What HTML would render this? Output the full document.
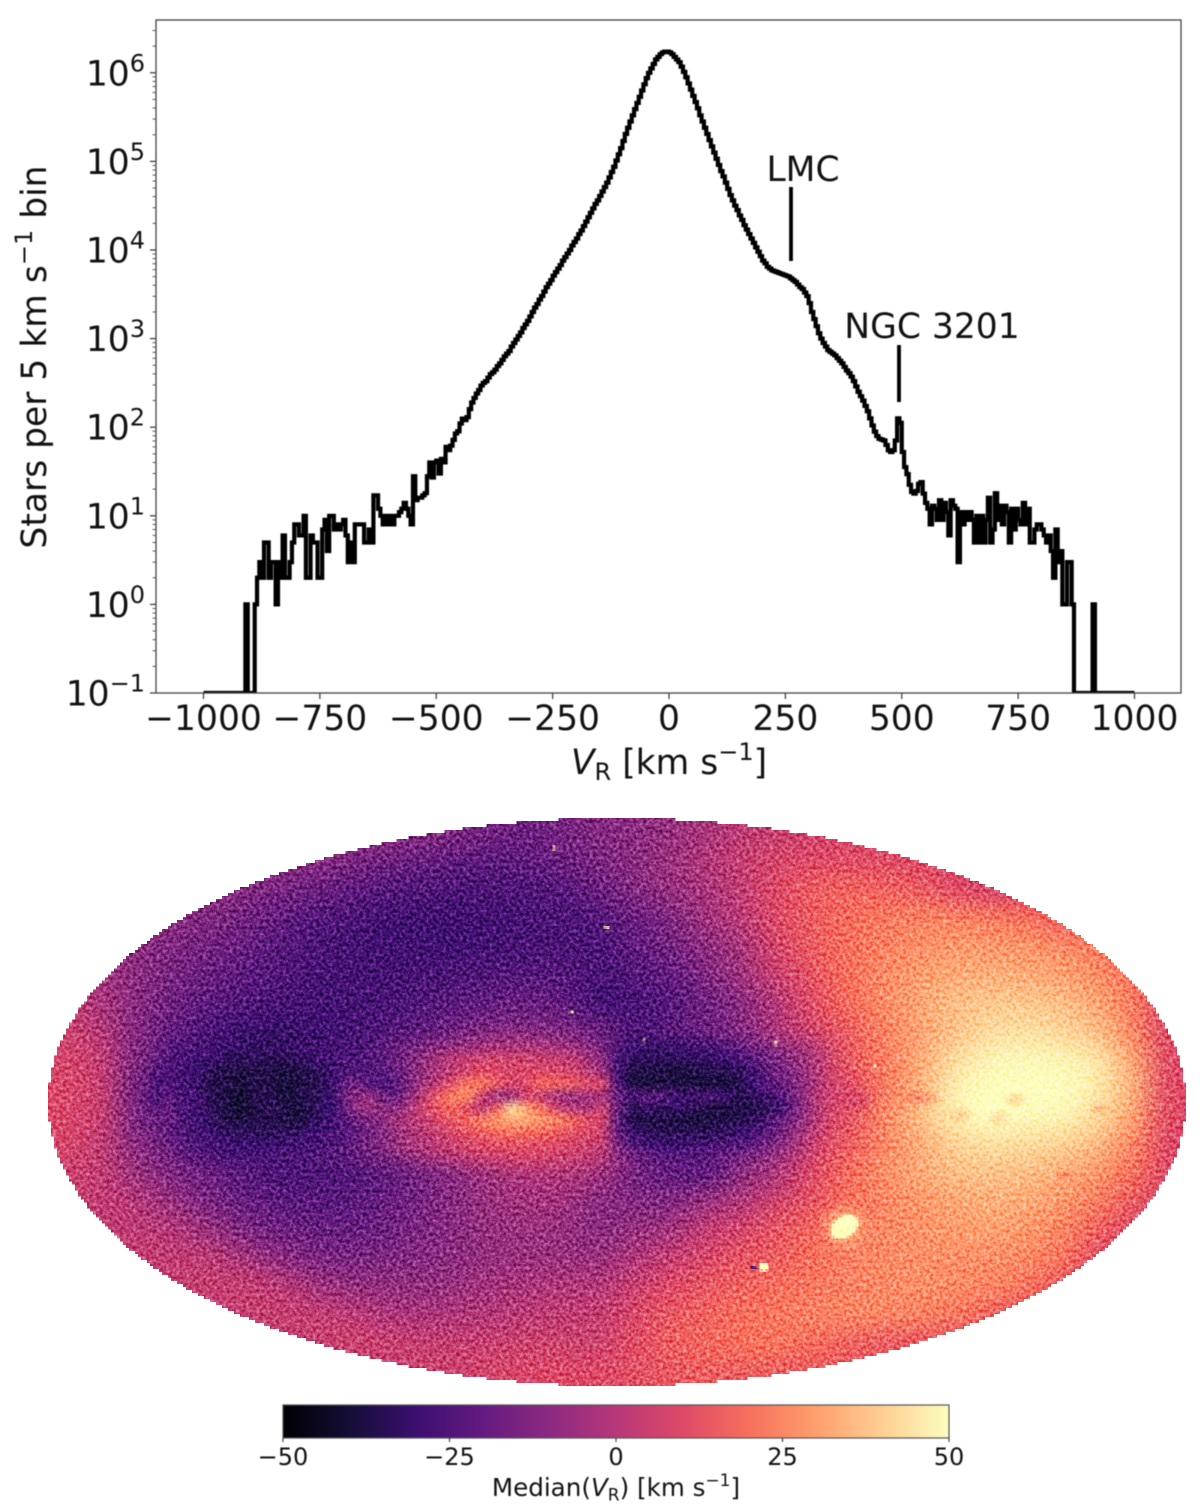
<!DOCTYPE html>
<html lang="en">
<head>
<meta charset="utf-8">
<title>Radial velocity histogram and sky map</title>
<style>
html,body{margin:0;padding:0;background:#fff;}
#page{position:relative;width:1200px;height:1510px;background:#fff;overflow:hidden;isolation:isolate;font-family:"DejaVu Sans","Liberation Sans",sans-serif;}
#sky-canvas{position:absolute;left:48px;top:818px;width:1138px;height:568px;image-rendering:pixelated;}
#grain{position:absolute;left:0;top:0;mix-blend-mode:soft-light;pointer-events:none;}
#chart{position:absolute;left:0;top:0;filter:blur(0.4px);}
text{font-family:"DejaVu Sans","Liberation Sans",sans-serif;fill:#111;}
</style>
</head>
<body>
<div id="page">
<canvas id="sky-canvas" width="379" height="189"></canvas>
<svg id="grain" width="1200" height="1510">
  <defs>
    <filter id="noise" x="0" y="0" width="100%" height="100%" color-interpolation-filters="sRGB">
      <feTurbulence type="fractalNoise" baseFrequency="0.3" numOctaves="2" seed="7"/>
      <feColorMatrix type="matrix" values="1.6 0 0 0 -0.3  1.6 0 0 0 -0.3  1.6 0 0 0 -0.3  0 0 0 0 1"/>
    </filter>
  </defs>
  <ellipse cx="617" cy="1102" rx="569" ry="284" filter="url(#noise)"/>
</svg>
<svg id="chart" width="1200" height="1510" xmlns="http://www.w3.org/2000/svg">
  <defs>
    <clipPath id="axes-clip"><rect x="156" y="20" width="1025" height="673"/></clipPath>
    <linearGradient id="cbar-gradient" x1="0" x2="1" y1="0" y2="0"></linearGradient>
  </defs>
  <g id="hist-ticks"></g>
  <path id="hist-line" clip-path="url(#axes-clip)" fill="none" stroke="#000" stroke-width="4.2" stroke-linejoin="miter"></path>
  <rect x="156" y="20" width="1025" height="673" fill="none" stroke="#444" stroke-width="1.3"></rect>

  <text x="803" y="181" font-size="34.5" text-anchor="middle">LMC</text>
  <line x1="791" x2="791" y1="187" y2="261" stroke="#000" stroke-width="3.8"></line>
  <text x="932" y="338" font-size="34.5" text-anchor="middle">NGC 3201</text>
  <line x1="899" x2="899" y1="345" y2="402" stroke="#000" stroke-width="3.8"></line>

  <text transform="translate(46,357) rotate(-90)" font-size="34.5" text-anchor="middle">Stars per 5 km s<tspan dy="-14" font-size="24">−1</tspan><tspan dy="14"> bin</tspan></text>
  <text x="669" y="774" font-size="34.5" text-anchor="middle"><tspan font-style="italic">V</tspan><tspan dy="6" font-size="24">R</tspan><tspan dy="-6"> [km s</tspan><tspan dy="-14" font-size="24">−1</tspan><tspan dy="14">]</tspan></text>

  <rect x="283" y="1405" width="666" height="33" fill="url(#cbar-gradient)" stroke="#555" stroke-width="1.2"></rect>
  <g id="cbar-ticks"></g>
  <text x="616" y="1496" font-size="24.6" text-anchor="middle">Median(<tspan font-style="italic">V</tspan><tspan dy="4.5" font-size="17">R</tspan><tspan dy="-4.5">) [km s</tspan><tspan dy="-10" font-size="17">−1</tspan><tspan dy="10">]</tspan></text>
</svg>
</div>

<script>
/* ---------- histogram data: 5 km/s bins ---------- */
const binWidth = 5;
const leftTailStart = -1000;
const leftTailCounts = [0,0,0,0,0,0,0,0,0,0,0,0,0,0,0,0,0,0,1,0,0,0,1,2,3,2,5,5,2,3,3,1,3,2,6,2,2,3,5,8,8,6,6,10,2,2,6,5,5,2,2,7,9,4,10,10,7,8,7,8,9,6,3,5,3,8,8,8,8,5,5,7,5,17,17,12,10,8,10,8,10,8,10,10,11,12,14,12,10,8,28,15,16,16,17,18,28,40,27,40,42,30,44,40,60,55,62,72,85,90,110,125,120,130,160,190];
const coreStart = -420;
const coreLog10Counts = [2.33,2.38,2.42,2.47,2.50,2.52,2.56,2.60,2.62,2.65,2.69,2.72,2.76,2.80,2.83,2.86,2.91,2.95,2.99,3.03,3.07,3.12,3.16,3.20,3.25,3.30,3.35,3.39,3.44,3.48,3.53,3.58,3.62,3.66,3.71,3.75,3.79,3.83,3.88,3.92,3.96,4.00,4.05,4.09,4.13,4.18,4.22,4.27,4.32,4.37,4.42,4.47,4.52,4.56,4.61,4.66,4.71,4.76,4.82,4.88,4.94,5.01,5.08,5.15,5.23,5.31,5.38,5.45,5.52,5.59,5.66,5.73,5.80,5.87,5.94,6.00,6.05,6.10,6.15,6.18,6.21,6.23,6.24,6.24,6.23,6.21,6.18,6.15,6.12,6.07,6.01,5.95,5.88,5.81,5.74,5.67,5.60,5.52,5.45,5.38,5.31,5.24,5.17,5.10,5.03,4.96,4.89,4.83,4.76,4.69,4.62,4.56,4.50,4.45,4.39,4.34,4.28,4.23,4.18,4.13,4.08,4.03,3.98,3.93,3.88,3.85,3.81,3.79,3.77,3.76,3.75,3.74,3.73,3.72,3.71,3.70,3.68,3.66,3.64,3.61,3.58,3.56,3.52,3.48,3.40,3.30,3.22,3.14,3.06,3.00,2.95,2.91,2.87,2.85,2.83,2.81,2.78,2.75,2.72,2.68,2.64,2.61,2.57,2.52,2.46,2.40,2.35,2.30,2.24,2.18,2.10,2.02,1.95,1.90,1.87,1.86,1.85,1.80,1.74,1.72,1.74,1.85,2.10,2.05,1.72,1.55,1.47,1.35,1.27,1.25,1.28,1.36,1.38,1.25];
const rightTailStart = 550;
const rightTailCounts = [14,12,8,13,12,9,15,9,14,11,6,15,13,12,3,11,8,11,9,11,9,5,10,5,10,5,9,16,5,7,18,9,13,8,13,11,5,12,7,12,9,8,14,8,12,5,5,7,8,8,7,6,5,6,4,2,7,3,4,1,1,3,3,1,0,0,0,0,0,0,0,0,1,0,0,0,0,0,0,0,0,0,0,0,0,0,0,0,0,0];
const xTickValues = [-1000,-750,-500,-250,0,250,500,750,1000];
const yTickExponents = [-1,0,1,2,3,4,5,6];
const minorMultipliers = [2,3,4,5,6,7,8,9];

/* ---------- colour data ---------- */
const magmaStops = ['#000004','#140e36','#3b0f70','#641a80','#8c2981','#b73779','#de4968','#f7705c','#fe9f6d','#fecf92','#fcfdbf'];
const cbarTickValues = [-50,-25,0,25,50];

/* ---------- sky map data: median V_R in km/s ---------- */
const skyGrid = [
[-2,-2,-2,-3,-4,-5,-6,-7,-8,-9,-11,-14,-17,-18,-15,-12,-10,-7,-3,2,5,7,8,8,8,8,8,8,8,8,8,8],
[-2,-2,-3,-4,-5,-7,-8,-11,-14,-17,-19,-21,-22,-21,-18,-14,-10,-6,-1,4,8,10,11,11,10,9,8,8,8,8,8,8],
[-3,-3,-4,-6,-8,-12,-15,-18,-21,-24,-25,-26,-26,-25,-23,-18,-12,-7,-3,3,10,15,17,17,15,11,8,8,8,8,8,8],
[-4,-5,-7,-10,-13,-16,-20,-24,-26,-28,-29,-29,-28,-27,-26,-24,-18,-13,-5,2,10,15,19,22,24,24,22,20,16,12,9,8],
[-2,-5,-9,-13,-16,-19,-23,-26,-28,-29,-29,-29,-28,-27,-26,-26,-21,-16,-9,-3,8,15,20,24,27,29,29,28,26,22,16,8],
[0,-4,-10,-15,-19,-22,-25,-27,-28,-28,-27,-26,-25,-24,-24,-27,-24,-20,-13,-5,5,13,20,26,30,33,34,33,31,27,20,8],
[4,-3,-11,-17,-22,-25,-27,-28,-28,-27,-25,-22,-20,-19,-21,-28,-27,-24,-17,-10,0,11,19,26,32,37,39,39,37,32,23,10],
[6,0,-12,-20,-26,-30,-32,-30,-28,-25,-21,-16,-12,-11,-13,-18,-26,-22,-18,-12,-2,7,15,24,31,38,43,44,42,37,25,10],
[8,3,-14,-24,-32,-36,-37,-34,-30,-24,-17,-8,1,3,-2,-12,-32,-34,-30,-20,-6,-2,14,23,33,43,48,49,48,45,32,11],
[9,4,-16,-26,-34,-37,-38,-34,-30,-16,-6,6,18,10,8,-10,-30,-35,-32,-22,-8,0,10,22,34,47,50,50,50,46,34,11],
[9,4,-15,-24,-30,-36,-37,-33,-26,-18,-8,5,18,26,18,4,-28,-34,-30,-20,-6,2,12,25,37,47,50,49,48,43,31,11],
[8,3,-11,-18,-23,-26,-29,-28,-26,-22,-14,-4,6,12,10,3,-14,-24,-22,-15,-4,6,15,25,33,41,44,43,41,36,25,10],
[6,3,-6,-13,-18,-23,-26,-26,-25,-21,-15,-9,-4,-1,-1,-5,-16,-20,-22,-10,-2,10,19,27,33,37,38,37,34,29,20,10],
[5,3,0,-7,-14,-19,-22,-23,-22,-19,-15,-10,-6,-4,-5,-10,-12,-12,-6,-1,7,13,20,25,29,32,34,33,29,23,15,8],
[4,3,2,0,-6,-13,-17,-19,-19,-17,-13,-10,-7,-6,-7,-10,-7,-4,3,8,13,18,23,26,28,30,31,29,25,17,10,5],
[4,4,4,3,2,-3,-9,-13,-14,-13,-11,-9,-7,-6,-6,-6,-1,4,9,13,16,20,24,26,27,27,27,26,21,12,6,5],
[4,4,4,4,4,4,2,-4,-7,-8,-8,-6,-4,-2,-1,0,5,10,14,17,20,22,24,26,27,26,25,21,14,6,5,5],
[4,4,4,4,4,4,4,4,2,-1,-2,-1,0,2,3,4,9,14,17,20,22,24,25,25,24,22,17,12,6,5,5,5],
[4,4,4,4,4,4,4,4,6,5,4,4,5,6,6,6,11,16,18,20,21,19,17,15,14,12,10,6,5,5,5,5],
[4,4,4,4,4,4,4,4,4,4,6,6,8,9,10,10,12,14,16,16,16,15,15,14,12,10,6,5,5,5,5,5]
];
const planeGrid = [
[-5,-14,-21,-24,-26,-27,-28,-29,-29,-29,-28,-27,-27,-26,-25,-24,-20,-18,-16,-12,-10,-8,-7,-6,-5,-5,-5,-6,-8,-9,-12,-16,-24,-27,-28,-28,-28,-27,-26,-22,-17,-14,-10,-6,-2,2,8,15],
[-5,-16,-23,-26,-27,-28,-30,-31,-31,-31,-30,-29,-28,-27,-26,-25,-22,-18,-15,-10,-7,-4,-3,-2,-1,-1,0,-1,-2,-3,-8,-14,-26,-30,-31,-31,-31,-30,-29,-27,-23,-19,-15,-10,-6,-1,6,14],
[-6,-19,-25,-27,-29,-31,-34,-35,-34,-36,-35,-33,-31,-28,-26,-26,-23,-18,-14,-8,-3,2,5,7,8,7,7,6,5,3,-3,-9,-26,-33,-34,-34,-34,-33,-32,-30,-27,-23,-17,-12,-7,-2,6,14],
[-9,-24,-26,-28,-31,-35,-37,-38,-37,-37,-39,-37,-34,-31,-25,-24,-24,-20,-14,-7,-2,3,8,11,10,8,10,9,9,7,2,-5,-28,-38,-38,-38,-39,-38,-37,-37,-34,-29,-21,-15,-9,-2,6,14],
[-12,-28,-26,-28,-32,-36,-37,-39,-36,-38,-40,-37,-35,-30,-18,-20,-26,-24,-14,-5,3,12,22,22,14,8,10,20,16,16,10,8,-25,-38,-39,-38,-38,-39,-38,-39,-37,-30,-24,-18,-12,-4,4,12],
[-14,-30,-22,-27,-28,-36,-38,-42,-36,-37,-39,-36,-34,-30,-15,-8,-14,-20,-10,2,14,24,26,4,-6,-4,8,2,-4,-6,-4,-4,-18,-26,-22,-24,-30,-28,-26,-30,-34,-33,-28,-24,-12,-3,5,10],
[-12,-22,-18,-27,-28,-34,-38,-41,-36,-34,-38,-39,-34,-30,-16,-6,-8,-10,-4,6,14,18,10,2,16,44,28,18,6,0,-2,6,-18,-35,-31,-34,-31,-35,-37,-38,-38,-37,-35,-28,-14,-4,6,14],
[-10,-18,-20,-25,-29,-33,-37,-38,-37,-36,-38,-37,-32,-29,-22,-16,-12,-6,0,3,9,14,18,24,30,33,32,29,24,18,11,7,-22,-36,-37,-38,-38,-39,-38,-37,-36,-33,-26,-18,-10,-2,6,14],
[-8,-16,-20,-25,-28,-30,-33,-34,-34,-34,-33,-32,-30,-27,-24,-18,-14,-8,-3,1,5,9,13,16,19,20,20,18,16,12,9,5,-18,-31,-34,-35,-35,-35,-34,-33,-31,-28,-22,-14,-6,1,8,15],
[-6,-14,-18,-23,-26,-28,-30,-30,-30,-30,-29,-28,-27,-25,-22,-17,-13,-8,-3,-1,2,5,8,10,11,12,12,11,10,8,6,3,-14,-24,-28,-30,-30,-29,-28,-26,-24,-21,-16,-10,-3,4,10,16],
[-5,-12,-16,-21,-23,-26,-28,-28,-28,-27,-26,-25,-24,-22,-20,-16,-13,-9,-5,-1,2,4,6,8,8,9,9,8,6,5,3,1,-11,-18,-22,-24,-24,-24,-22,-20,-18,-15,-11,-6,0,6,12,16],
[-3,-10,-14,-18,-20,-23,-25,-25,-25,-24,-23,-22,-21,-20,-18,-15,-12,-9,-6,-3,-1,1,2,3,4,4,4,3,2,1,0,-2,-8,-14,-17,-19,-20,-21,-20,-16,-12,-9,-5,-1,4,9,13,17]
];
/* compact sky sources: sky coordinates (fraction of map), angular radii, median velocity */
const skyFeatures = [
{u:.709,v:.496,ru:.018,rv:.026,value:8,soft:1,tilt:0},
{u:.764,v:.493,ru:.022,rv:.016,value:25,soft:1,tilt:0},
{u:.740,v:.505,ru:.012,rv:.016,value:26,soft:1,tilt:0},
{u:.801,v:.523,ru:.012,rv:.018,value:40,soft:1,tilt:0},
{u:.850,v:.496,ru:.012,rv:.016,value:42,soft:1,tilt:0},
{u:.836,v:.528,ru:.012,rv:.018,value:43,soft:1,tilt:0},
{u:.923,v:.511,ru:.009,rv:.014,value:36,soft:1,tilt:0},
{u:.894,v:.630,ru:.012,rv:.010,value:24,soft:1,tilt:0},
{u:.700,v:.720,ru:.024,rv:.048,value:36,soft:1,tilt:0},
{u:.700,v:.720,ru:.015,rv:.021,value:50,soft:0,tilt:-0.6},
{u:.629,v:.790,ru:.0048,rv:.009,value:50,soft:0,tilt:0},
{u:.620,v:.792,ru:.0026,rv:.005,value:-30,soft:0,tilt:0},
{u:.491,v:.194,ru:.0026,rv:.004,value:50,soft:0,tilt:0},
{u:.4446,v:.053,ru:.0020,rv:.004,value:45,soft:0,tilt:0},
{u:.4596,v:.3415,ru:.0020,rv:.004,value:50,soft:0,tilt:0},
{u:.639,v:.396,ru:.0020,rv:.005,value:50,soft:0,tilt:0},
{u:.523,v:.391,ru:.0018,rv:.004,value:45,soft:0,tilt:0},
{u:.727,v:.438,ru:.0018,rv:.004,value:50,soft:0,tilt:0}
];

/* ---------- axis functions ---------- */
const SVGNS = 'http://www.w3.org/2000/svg';
function xOf(v){ return 669 + 0.4655 * v; }
function yOfLog(l){ return 693 - 88.6 * (l + 1); }
function yOfCount(c){ return c > 0 ? yOfLog(Math.log10(c)) : yOfLog(-1); }
function cbarX(v){ return 616 + 6.66 * v; }

/* ---------- histogram ---------- */
const bins = [];
leftTailCounts.forEach(function(c, i){ bins.push({lo: leftTailStart + i * binWidth, y: yOfCount(c)}); });
coreLog10Counts.forEach(function(l, i){ bins.push({lo: coreStart + i * binWidth, y: yOfLog(l)}); });
rightTailCounts.forEach(function(c, i){ bins.push({lo: rightTailStart + i * binWidth, y: yOfCount(c)}); });
let histPath = '';
bins.forEach(function(b, i){
  histPath += (i === 0 ? 'M' : 'L') + xOf(b.lo).toFixed(2) + ' ' + b.y.toFixed(2);
  histPath += 'L' + xOf(b.lo + binWidth).toFixed(2) + ' ' + b.y.toFixed(2);
});
document.getElementById('hist-line').setAttribute('d', histPath);

/* ---------- histogram ticks ---------- */
function makeLine(parent, x1, y1, x2, y2, w){
  const l = document.createElementNS(SVGNS, 'line');
  l.setAttribute('x1', x1); l.setAttribute('y1', y1);
  l.setAttribute('x2', x2); l.setAttribute('y2', y2);
  l.setAttribute('stroke', '#333'); l.setAttribute('stroke-width', w);
  parent.appendChild(l);
  return l;
}
const histTicks = document.getElementById('hist-ticks');
xTickValues.forEach(function(v){
  const t = makeLine(histTicks, xOf(v), 693, xOf(v), 699, 1.2);
  
  
  const s = document.createElementNS(SVGNS, 'text');
  s.setAttribute('x', xOf(v));
  s.setAttribute('y', 730);
  s.setAttribute('font-size', 34.5);
  s.setAttribute('text-anchor', 'middle');
  s.textContent = String(v).replace('-', '\u2212');
  
  
  histTicks.appendChild(s);
});
yTickExponents.forEach(function(e){
  const y = yOfLog(e);
  const t = makeLine(histTicks, 150, y, 156, y, 1.2);
  
  
  minorMultipliers.forEach(function(m){
    const my = yOfLog(e + Math.log10(m));
    if (my < 20) return;
    const mt = makeLine(histTicks, 152.5, my, 156, my, 0.8);
    
    
  });
  const s = document.createElementNS(SVGNS, 'text');
  s.setAttribute('x', 145);
  s.setAttribute('y', y + 12.5);
  s.setAttribute('font-size', 34.5);
  s.setAttribute('text-anchor', 'end');
  
  
  const base = document.createElementNS(SVGNS, 'tspan');
  base.textContent = '10';
  const exp = document.createElementNS(SVGNS, 'tspan');
  exp.setAttribute('dy', -14);
  exp.setAttribute('font-size', 24);
  exp.textContent = String(e).replace('-', '\u2212');
  s.appendChild(base);
  s.appendChild(exp);
  histTicks.appendChild(s);
});

/* ---------- colour map ---------- */
const magmaRgb = magmaStops.map(function(h){
  return [parseInt(h.slice(1,3),16), parseInt(h.slice(3,5),16), parseInt(h.slice(5,7),16)];
});
function rgbOf(v){
  const t = Math.max(0, Math.min(1, (v + 50) / 100)) * (magmaRgb.length - 1);
  const i = Math.min(magmaRgb.length - 2, Math.floor(t));
  const f = t - i;
  return [0,1,2].map(function(k){ return Math.round(magmaRgb[i][k] + (magmaRgb[i+1][k] - magmaRgb[i][k]) * f); });
}
function cssOf(v, a){
  const c = rgbOf(v);
  return 'rgba(' + c[0] + ',' + c[1] + ',' + c[2] + ',' + (a === undefined ? 1 : a) + ')';
}

/* ---------- colour bar ---------- */
const grad = document.getElementById('cbar-gradient');
magmaStops.forEach(function(h, i){
  const st = document.createElementNS(SVGNS, 'stop');
  st.setAttribute('offset', i / (magmaStops.length - 1));
  st.setAttribute('stop-color', h);
  grad.appendChild(st);
});
const cbarTicks = document.getElementById('cbar-ticks');
cbarTickValues.forEach(function(v){
  const t = makeLine(cbarTicks, cbarX(v), 1438, cbarX(v), 1442, 1.1);
  
  
  const s = document.createElementNS(SVGNS, 'text');
  s.setAttribute('x', cbarX(v));
  s.setAttribute('y', 1465);
  s.setAttribute('font-size', 24);
  s.setAttribute('text-anchor', 'middle');
  s.textContent = String(v).replace('-', '\u2212');
  
  
  cbarTicks.appendChild(s);
});

/* ---------- sky map ---------- */
const sky = document.getElementById('sky-canvas');
const ctx = sky.getContext('2d');
const W = sky.width, H = sky.height;
const scaleX = W / 1138, scaleY = H / 568;
function gridCanvas(grid){
  const c = document.createElement('canvas');
  c.height = grid.length;
  c.width = grid[0].length;
  const g = c.getContext('2d');
  grid.forEach(function(row, r){
    row.forEach(function(v, k){
      g.fillStyle = cssOf(v);
      g.fillRect(k, r, 1, 1);
    });
  });
  return c;
}
ctx.imageSmoothingEnabled = true;
ctx.imageSmoothingQuality = 'high';
ctx.drawImage(gridCanvas(skyGrid), 0, 0, W, H);

/* finer Galactic-plane strip, feathered into the coarse grid */
const stripX = (130 - 48) * scaleX, stripY = (1030 - 818) * scaleY;
const stripW = 720 * scaleX, stripH = 144 * scaleY;
const strip = document.createElement('canvas');
strip.width = Math.round(stripW);
strip.height = Math.round(stripH);
const sc = strip.getContext('2d');
sc.imageSmoothingEnabled = true;
sc.imageSmoothingQuality = 'high';
sc.drawImage(gridCanvas(planeGrid), 0, 0, strip.width, strip.height);
sc.globalCompositeOperation = 'destination-in';
let fade = sc.createLinearGradient(0, 0, strip.width, 0);
fade.addColorStop(0, 'rgba(0,0,0,0)');
fade.addColorStop(0.06, 'rgba(0,0,0,1)');
fade.addColorStop(0.94, 'rgba(0,0,0,1)');
fade.addColorStop(1, 'rgba(0,0,0,0)');
sc.fillStyle = fade;
sc.fillRect(0, 0, strip.width, strip.height);
fade = sc.createLinearGradient(0, 0, 0, strip.height);
fade.addColorStop(0, 'rgba(0,0,0,0)');
fade.addColorStop(0.18, 'rgba(0,0,0,1)');
fade.addColorStop(0.82, 'rgba(0,0,0,1)');
fade.addColorStop(1, 'rgba(0,0,0,0)');
sc.fillStyle = fade;
sc.fillRect(0, 0, strip.width, strip.height);
ctx.drawImage(strip, stripX, stripY, stripW, stripH);

/* compact sources */
skyFeatures.forEach(function(f){
  ctx.save();
  ctx.translate(f.u * W, f.v * H);
  ctx.rotate(f.tilt);
  ctx.scale(f.ru * W, f.rv * H);
  const g = ctx.createRadialGradient(0, 0, 0, 0, 0, 1);
  g.addColorStop(0, cssOf(f.value, 1));
  g.addColorStop(f.soft ? 0.35 : 0.8, cssOf(f.value, f.soft ? 0.7 : 1));
  g.addColorStop(1, cssOf(f.value, 0));
  ctx.fillStyle = g;
  ctx.beginPath();
  ctx.arc(0, 0, 1, 0, Math.PI * 2);
  ctx.fill();
  ctx.restore();
});

/* hard stair-stepped Mollweide edge */
const img = ctx.getImageData(0, 0, W, H);
for (let py = 0; py < H; py++) {
  for (let px = 0; px < W; px++) {
    const dx = (px + 0.5 - W / 2) / (W / 2);
    const dy = (py + 0.5 - H / 2) / (H / 2);
    if (dx * dx + dy * dy > 1) img.data[(py * W + px) * 4 + 3] = 0;
  }
}
ctx.putImageData(img, 0, 0);
</script>
</body>
</html>
